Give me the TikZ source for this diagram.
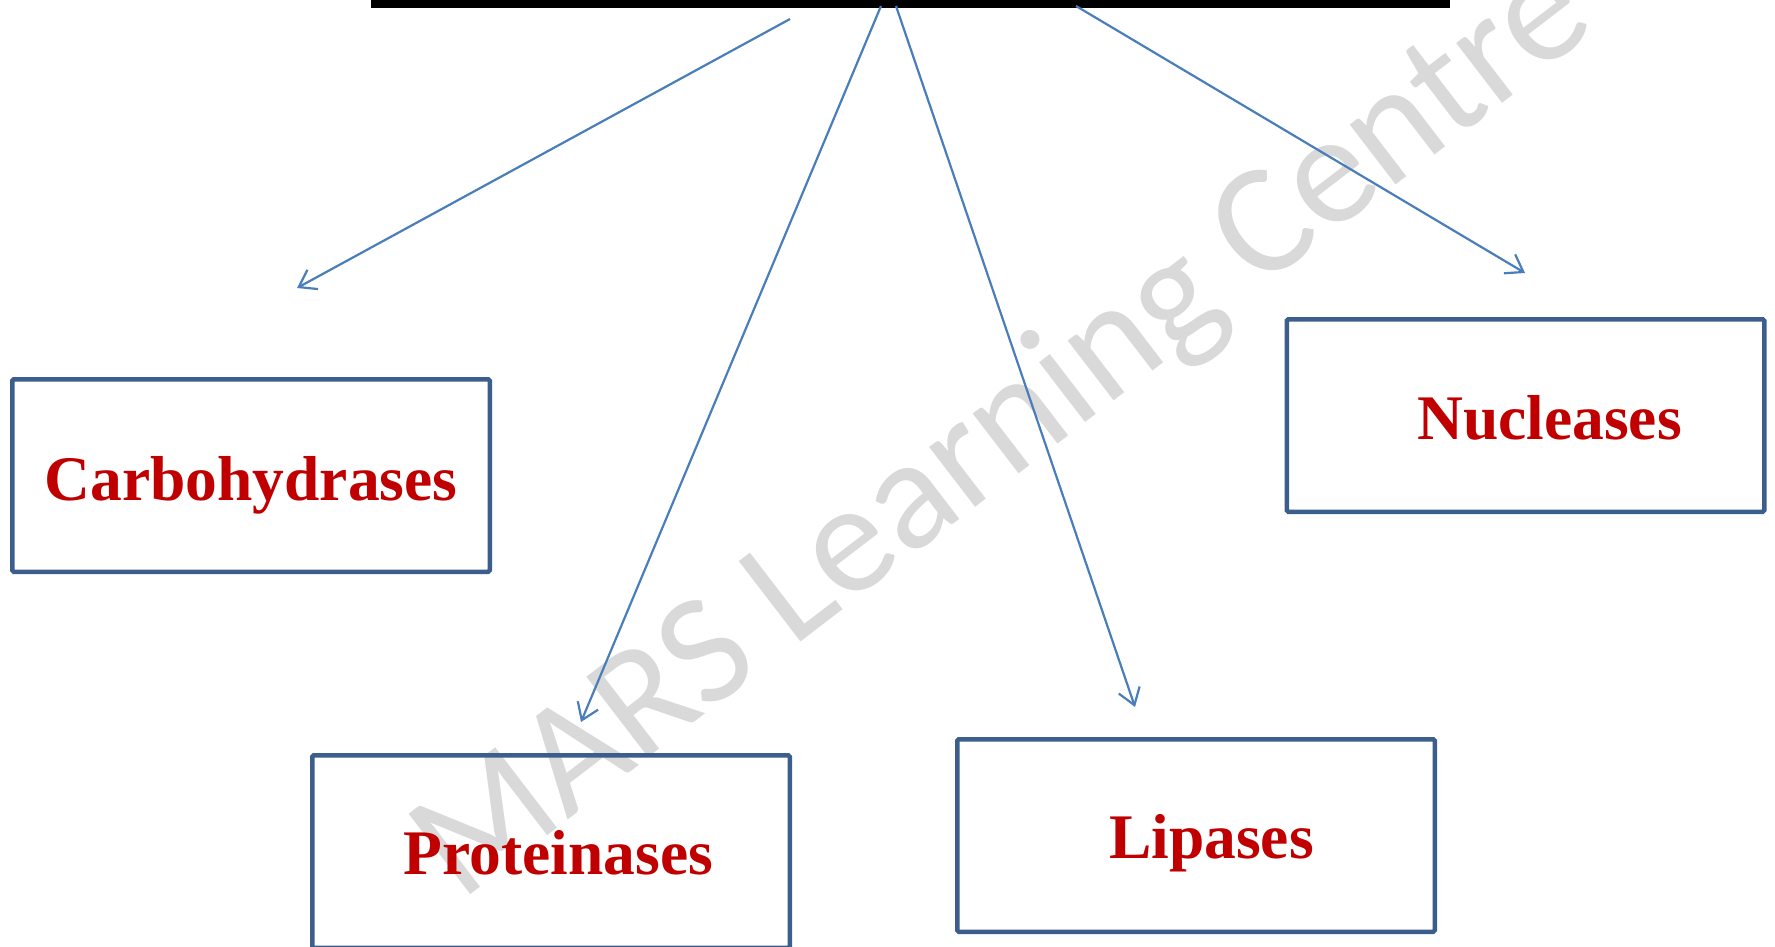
\documentclass[tikz,border=0pt]{standalone}
\usepackage{fontspec}
\setmainfont{Liberation Serif}
\newfontfamily\wmfont{Carlito}
\usetikzlibrary{arrows.meta, positioning}
\definecolor{boxblue}{RGB}{59,94,140}
\definecolor{arrowblue}{RGB}{74,126,187}
\definecolor{enzred}{RGB}{192,0,0}
\definecolor{wmgray}{RGB}{217,217,217}

\begin{document}
\begin{tikzpicture}[x=1pt, y=-1pt]
			\tikzset{%
				enzbox/.style={rectangle, rounded corners=1.5pt, draw=boxblue, line width=4.5pt, minimum width=477.5pt, minimum height=192.5pt, inner sep=0pt},
				enzlabel/.style={anchor=base, text=enzred, font=\fontsize{63.5}{70}\selectfont\bfseries, inner sep=0pt},
				splitarrow/.style={draw=arrowblue, line width=2.2pt, -{Straight Barb[length=16pt, width=22pt]}},
				watermark/.style={text=wmgray, font=\wmfont\fontsize{158}{165}\selectfont, inner sep=0pt}
			}
			\useasboundingbox (0,0) rectangle (1775,947);
			\clip (0,0) rectangle (1775,947);
			% watermark behind everything
			\node[watermark, rotate=37.5, anchor=base west](wm) at (460,903){MARS Learning Centre};
			% title bar (cut at the top)
			\node[fill=black, minimum width=1079pt, minimum height=20pt, inner sep=0pt](bar) at (910.5,-2){};
			% enzyme boxes
			\node[enzbox](carbo) at (251,475.5){};
			\node[enzbox](prot) at (551,851.5){};
			\node[enzbox](lip) at (1196,835.5){};
			\node[enzbox](nucl) at (1525.5,415.5){};
			\node[enzlabel](carbotext) at ([yshift=-24.5pt]carbo.center){Carbohydrases};
			\node[enzlabel](prottext) at ([xshift=7.5pt, yshift=-22.5pt]prot.center){Proteinases};
			\node[enzlabel](liptext) at ([xshift=15.5pt, yshift=-22.5pt]lip.center){Lipases};
			\node[enzlabel](nucltext) at ([xshift=24pt, yshift=-23.5pt]nucl.center){Nucleases};
			% arrows from the bar
			\coordinate (s1) at (790,19);
			\coordinate (s2) at (881,6);
			\coordinate (s3) at (896,6);
			\coordinate (s4) at (1076,6);
			\coordinate (t1) at (297,288);
			\coordinate (t2) at (581,722);
			\coordinate (t3) at (1135,707);
			\coordinate (t4) at (1525,273);
			\draw[splitarrow] (s1) -- (t1);
			\draw[splitarrow] (s2) -- (t2);
			\draw[splitarrow] (s3) -- (t3);
			\draw[splitarrow] (s4) -- (t4);
		\end{tikzpicture}
\end{document}
